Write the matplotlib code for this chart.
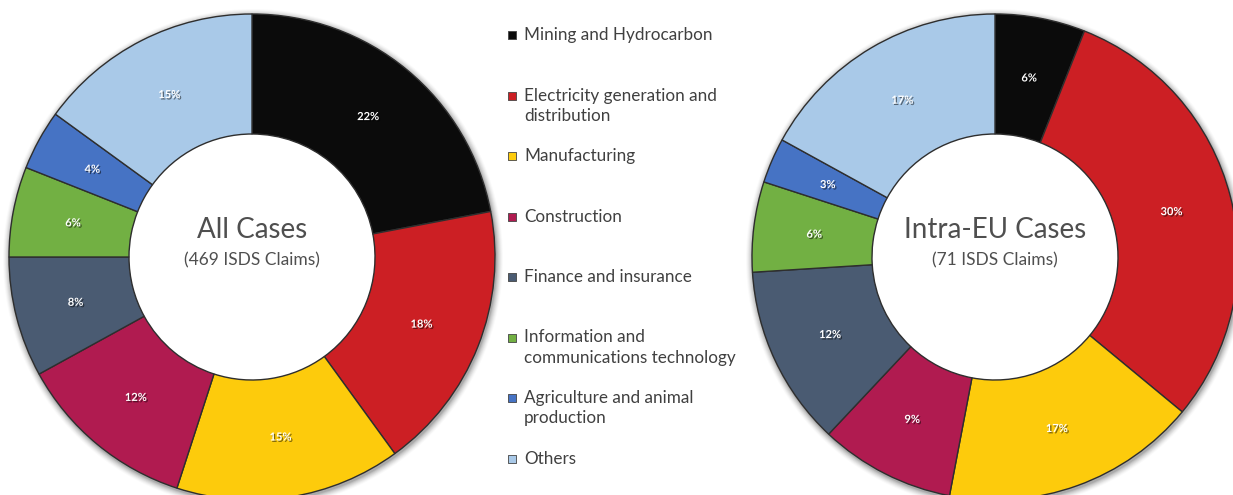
import numpy as np
import matplotlib
matplotlib.use("Agg")
import matplotlib.pyplot as plt
import matplotlib.patheffects as pe
from matplotlib.patches import Wedge

# Sector names and colours shared by both donuts
sectors = [
    "Mining and Hydrocarbon",
    "Electricity generation and\ndistribution",
    "Manufacturing",
    "Construction",
    "Finance and insurance",
    "Information and\ncommunications technology",
    "Agriculture and animal\nproduction",
    "Others",
]
colors = ["#0b0b0b", "#cc1f24", "#fdcb0c", "#b01b50", "#4a5b72",
          "#72b043", "#4673c4", "#a9c9e8"]

# Share of claims per sector (%)
all_cases = [22, 18, 15, 12, 8, 6, 4, 15]
intra_eu = [6, 30, 17, 9, 12, 6, 3, 17]

titles = ["All Cases", "Intra-EU Cases"]
subtitles = ["(469 ISDS Claims)", "(71 ISDS Claims)"]

W, H = 1233, 495
plt.rcParams["font.family"] = ["Lato", "DejaVu Sans"]

fig = plt.figure(figsize=(W / 100, H / 100), dpi=100)
ax = fig.add_axes([0, 0, 1, 1])

R_OUT = 243
RING = 120
centers = [(252, H - 257), (995, H - 257)]

for data, (cx, cy), title, sub in zip([all_cases, intra_eu], centers, titles, subtitles):
    # soft halo just outside the ring
    for k, a in zip(range(7, 0, -1), [0.02, 0.03, 0.04, 0.05, 0.06, 0.08, 0.10]):
        ax.add_patch(Wedge((cx + 1, cy - 2), R_OUT + k, 0, 360, width=k + 3,
                           color="#000000", alpha=a, lw=0, zorder=0))
    wedges, _, autotexts = ax.pie(
        data, colors=colors, startangle=90, counterclock=False,
        center=(cx, cy), radius=R_OUT, autopct=lambda p: f"{p:.0f}%",
        pctdistance=0.75,
        wedgeprops=dict(width=RING, edgecolor="#2e2e2e", linewidth=1.0),
        textprops=dict(color="white", fontsize=8, fontweight="bold"),
    )
    for w in wedges:
        w.set_zorder(2)
    for t in autotexts:
        t.set_zorder(4)
        t.set_path_effects([pe.withSimplePatchShadow(offset=(1, -1),
                                                     shadow_rgbFace="#000000", alpha=0.5)])
    ax.text(cx, cy + 27, title, ha="center", va="center", fontsize=20,
            color="#4f4f4f", zorder=5)
    ax.text(cx, cy - 3, sub, ha="center", va="center", fontsize=12.5,
            color="#4f4f4f", zorder=5)

# Legend drawn as a column of squares and labels between the donuts
row0, step = H - 35, 60.5
for i, (name, c) in enumerate(zip(sectors, colors)):
    y = row0 - i * step
    ax.scatter([512], [y], marker="s", s=30, color=c, edgecolor="#444444",
               linewidth=0.6, zorder=5)
    ax.text(524, y + 8, name, ha="left", va="top", fontsize=12.3,
            color="#404040", linespacing=1.32, zorder=5)

ax.set_xlim(0, W)
ax.set_ylim(0, H)
ax.set_aspect("equal")
ax.axis("off")

fig.savefig("out.png", dpi=100)
